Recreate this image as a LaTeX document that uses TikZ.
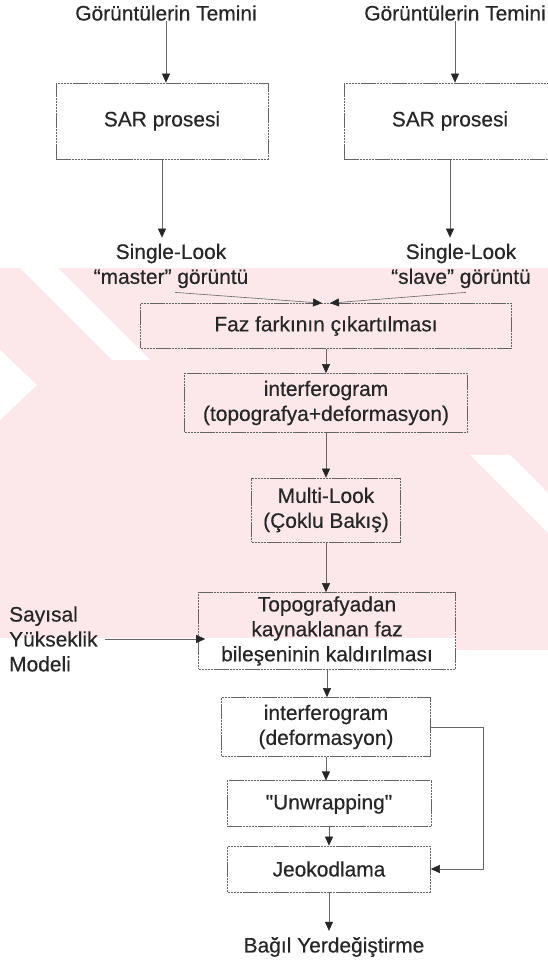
\documentclass[tikz,border=0pt]{standalone}
\usepackage{fontspec}
\setmainfont{Liberation Sans}[FakeBold=0.4]
\usepackage{tikz}
\usetikzlibrary{arrows,arrows.meta,shapes}
\definecolor{wmpink}{RGB}{252,231,234}
\definecolor{linegray}{RGB}{100,100,100}
\tikzset{
  procbox/.style={draw=linegray,line width=0.7bp,dash pattern=on 2.5bp off 0.6bp,inner sep=0pt,align=center},
  plaintext/.style={inner sep=0pt,align=center},
}

\begin{document}
\begin{tikzpicture}[>={Triangle[length=9bp,width=8bp,color=black!85]},line join=bevel,font=\fontsize{21}{25}\selectfont\color{black!85}]
\useasboundingbox (0bp,0bp) rectangle (548bp,962bp);
%% watermark
\fill [wmpink] (0bp,694bp) rectangle (548bp,324bp);
\fill [wmpink] (456bp,324bp) rectangle (548bp,312bp);
\fill [white] (0bp,612bp) -- (37bp,577bp) -- (0bp,542bp) -- cycle;
\fill [white] (20bp,694bp) -- (58bp,694bp) -- (150bp,602bp) -- (112bp,602bp) -- cycle;
\fill [white] (470bp,507bp) -- (510bp,507bp) -- (548bp,469bp) -- (548bp,429bp) -- cycle;
%%
\node (titleL) at (166bp,949bp) [plaintext] {Görüntülerin Temini};
  \node (titleR) at (455bp,949bp) [plaintext] {Görüntülerin Temini};
  \node (sarL) at (162bp,841bp) [procbox,minimum width=212bp,minimum height=76bp] {SAR prosesi};
  \node (sarR) at (450bp,841bp) [procbox,minimum width=212bp,minimum height=76bp] {SAR prosesi};
  \node (slL) at (171bp,696bp) [plaintext] {Single-Look\\``master'' görüntü};
  \node (slR) at (461bp,696bp) [plaintext] {Single-Look\\``slave'' görüntü};
  \node (faz) at (326bp,636bp) [procbox,minimum width=371bp,minimum height=45bp] {Faz farkının çıkartılması};
  \node (ifg) at (326bp,559bp) [procbox,minimum width=283bp,minimum height=59bp] {interferogram\\(topografya+deformasyon)};
  \node (mlook) at (326bp,452bp) [procbox,minimum width=149bp,minimum height=64bp] {Multi-Look\\(Çoklu Bakış)};
  \node (topo) at (327bp,331bp) [procbox,minimum width=257bp,minimum height=77bp] {Topografyadan\\kaynaklanan faz\\bileşeninin kaldırılması};
  \node (dem) at (9bp,323bp) [plaintext,anchor=west,align=left] {Sayısal\\Yükseklik\\Modeli};
  \node (ifgdef) at (326bp,235bp) [procbox,minimum width=209bp,minimum height=59bp] {interferogram\\(deformasyon)};
  \node (unwrap) at (329bp,158bp) [procbox,line width=1bp,minimum width=204bp,minimum height=46bp] {\textquotedbl Unwrapping\textquotedbl};
  \node (geocode) at (329bp,93bp) [procbox,minimum width=203bp,minimum height=46bp] {Jeokodlama};
  \node (result) at (334bp,15bp) [plaintext] {Bağıl Yerdeğiştirme};
  \draw [->,linegray,line width=0.6bp] (titleL) -- (titleL |- sarL.north);
  \draw [->,linegray,line width=0.6bp] (titleR) -- (titleR |- sarR.north);
  \draw [->,linegray,line width=0.6bp] (sarL) -- ([yshift=6bp]sarL |- slL.north);
  \draw [->,linegray,line width=0.6bp] (sarR) -- ([yshift=6bp]sarR |- slR.north);
  \draw [->,linegray,line width=0.6bp] ([xshift=4bp,yshift=-4bp]slL.south) -- ([xshift=-4bp]faz.north);
  \draw [->,linegray,line width=0.6bp] ([xshift=5bp,yshift=-4bp]slR.south) -- ([xshift=4bp]faz.north);
  \draw [->,linegray,line width=0.6bp] (faz) -- (faz |- ifg.north);
  \draw [->,linegray,line width=0.6bp] (ifg) -- (ifg |- mlook.north);
  \draw [->,linegray,line width=0.6bp] (mlook) -- (mlook |- topo.north);
  \draw [->,linegray,line width=0.6bp] ([xshift=7bp]dem.east) -- ([xshift=7bp]dem.east -| topo.west);
  \draw [->,linegray,line width=0.6bp] (topo) -- (topo |- ifgdef.north);
  \draw [->,linegray,line width=0.6bp] (ifgdef) -- (ifgdef |- unwrap.north);
  \draw [->,linegray,line width=0.6bp] (unwrap) -- (unwrap |- geocode.north);
  \draw [->,linegray,line width=0.6bp] (ifgdef.east) -- ++(52bp,0bp) |- (geocode.east);
  \draw [->,linegray,line width=0.6bp] (geocode) -- ([yshift=6bp]geocode |- result.north);
%
\end{tikzpicture}
\end{document}
